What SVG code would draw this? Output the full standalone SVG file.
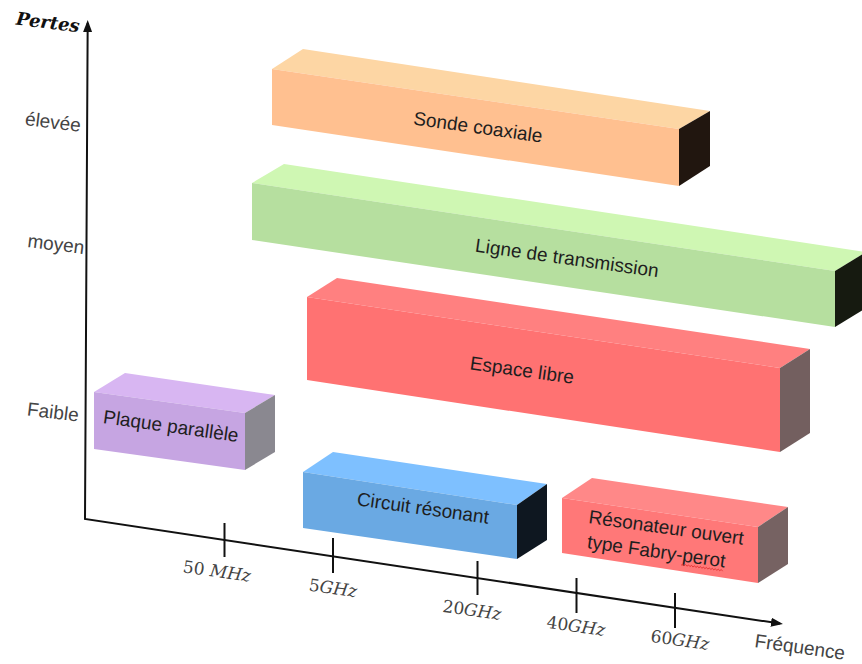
<svg xmlns="http://www.w3.org/2000/svg" width="862" height="664" viewBox="0 0 862 664">
<style>
  .lbl { font-family: "Liberation Sans", Arial, sans-serif; font-size: 19px; fill: #1e1e1e; text-anchor: middle; dominant-baseline: central; }
  .lbl2 { font-family: "Liberation Sans", Arial, sans-serif; font-size: 19px; fill: #1e1e1e; }
  .ylab { font-family: "Liberation Sans", Arial, sans-serif; font-size: 19px; fill: #444; text-anchor: middle; dominant-baseline: central; }
  .tick { font-family: "DejaVu Serif", "Liberation Serif", serif; font-size: 17px; fill: #444; text-anchor: middle; dominant-baseline: central; }
  .it { font-style: italic; }
  .title { font-family: "DejaVu Serif", "Liberation Serif", serif; font-size: 18px; font-weight: bold; font-style: italic; fill: #111; text-anchor: middle; dominant-baseline: central; }
  .axis { fill: none; stroke: #111; stroke-width: 2; }
  .tk { stroke: #111; stroke-width: 2; }
  .org-f { fill: #FFC090; } .org-t { fill: #FDD6A4; } .org-s { fill: #21160F; }
  .grn-f { fill: #B6DF9F; } .grn-t { fill: #CFF7B3; } .grn-s { fill: #161A10; }
  .red-f { fill: #FF7272; } .red-t { fill: #FF8080; } .red-s { fill: #735F5F; }
  .pur-f { fill: #C6A5E2; } .pur-t { fill: #D8B6F2; } .pur-s { fill: #8A8890; }
  .blu-f { fill: #6AA9E3; } .blu-t { fill: #7EC0FF; } .blu-s { fill: #0E1720; }
  .pnk-f { fill: #FF7878; } .pnk-t { fill: #FF8888; } .pnk-s { fill: #766262; }
</style>
<defs>
  <marker id="arr" viewBox="0 0 12 9" refX="9" refY="4.5" markerWidth="12" markerHeight="9" markerUnits="userSpaceOnUse" orient="auto-start-reverse">
    <path d="M0,0 L12,4.5 L0,9 z" fill="#111"/>
  </marker>
</defs>

<g id="connectors">
  <path class="axis" d="M87.68,23 L85,519 L780,623.55" marker-start="url(#arr)" marker-end="url(#arr)"/>
  <line class="tk" x1="224.5" y1="523" x2="224.5" y2="557"/>
  <line class="tk" x1="333" y1="538" x2="333" y2="573"/>
  <line class="tk" x1="477.5" y1="561" x2="477.5" y2="595"/>
  <line class="tk" x1="576.5" y1="578" x2="576.5" y2="613"/>
  <line class="tk" x1="675" y1="593" x2="675" y2="628"/>
</g>

<g id="axis-labels">
  <text class="title" x="48" y="22" transform="rotate(7 48 22)">Pertes</text>
  <text class="ylab" x="53" y="122" transform="rotate(7 53 122)">élevée</text>
  <text class="ylab" x="56" y="244" transform="rotate(7 56 244)">moyen</text>
  <text class="ylab" x="53" y="412" transform="rotate(7 53 412)">Faible</text>
  <text class="tick" x="217" y="571" transform="rotate(8 217 571)">50 <tspan class="it">MHz</tspan></text>
  <text class="tick" x="333" y="588" transform="rotate(8 333 588)">5<tspan class="it">GHz</tspan></text>
  <text class="tick" x="472" y="610" transform="rotate(8 472 610)">20<tspan class="it">GHz</tspan></text>
  <text class="tick" x="576" y="626" transform="rotate(8 576 626)">40<tspan class="it">GHz</tspan></text>
  <text class="tick" x="680" y="640" transform="rotate(8 680 640)">60<tspan class="it">GHz</tspan></text>
  <text class="ylab" x="800" y="647" fill="#333" transform="rotate(8 800 647)">Fréquence</text>
</g>

<g id="sonde-coaxiale">
  <polygon class="org-t" points="272,69 303,49 710,111 679,129"/>
  <polygon class="org-f" points="272,69 679,129 679,186 272,125"/>
  <polygon class="org-s" points="679,129 710,111 710,166 679,186"/>
  <text class="lbl" x="478" y="127" transform="rotate(8 478 127)">Sonde coaxiale</text>
</g>

<g id="ligne-transmission">
  <polygon class="grn-t" points="252,183 284,164 866,252 835,271"/>
  <polygon class="grn-f" points="252,183 835,271 835,327 252,240"/>
  <polygon class="grn-s" points="835,271 866,252 866,308 835,327"/>
  <text class="lbl" x="567" y="258" transform="rotate(8 567 258)">Ligne de transmission</text>
</g>

<g id="espace-libre">
  <polygon class="red-t" points="307,297 337,278 810,349 780,368"/>
  <polygon class="red-f" points="307,297 780,368 780,452 307,380"/>
  <polygon class="red-s" points="780,368 810,349 810,433 780,452"/>
  <text class="lbl" x="522" y="370" transform="rotate(8 522 370)">Espace libre</text>
</g>

<g id="plaque-parallele">
  <polygon class="pur-t" points="94,392 125,373 275,395 245,413"/>
  <polygon class="pur-f" points="94,392 245,413 245,470 94,449"/>
  <polygon class="pur-s" points="245,413 275,395 275,452 245,470"/>
  <text class="lbl" x="171" y="426" transform="rotate(8 171 426)">Plaque parallèle</text>
</g>

<g id="circuit-resonant">
  <polygon class="blu-t" points="303,472 333,452 547,484 517,505"/>
  <polygon class="blu-f" points="303,472 517,505 517,559 303,528"/>
  <polygon class="blu-s" points="517,505 547,484 547,540 517,559"/>
  <text class="lbl" x="423" y="508" transform="rotate(8 423 508)">Circuit résonant</text>
</g>

<g id="resonateur-fabry-perot">
  <polygon class="pnk-t" points="562,498 592,478 788,507 758,527"/>
  <polygon class="pnk-f" points="562,498 758,527 758,583 562,553"/>
  <polygon class="pnk-s" points="758,527 788,507 788,564 758,583"/>
  <g transform="rotate(8 588 523)">
    <text class="lbl2" x="588" y="523">Résonateur ouvert</text>
    <text class="lbl2" x="590" y="548">type Fabry-perot</text>
    <path d="M686,552 l1.5,-1.5 l1.5,1.5 l1.5,-1.5 l1.5,1.5 l1.5,-1.5 l1.5,1.5 l1.5,-1.5 l1.5,1.5 l1.5,-1.5 l1.5,1.5 l1.5,-1.5 l1.5,1.5 l1.5,-1.5 l1.5,1.5 l1.5,-1.5 l1.5,1.5 l1.5,-1.5 l1.5,1.5 l1.5,-1.5 l1.5,1.5 l1.5,-1.5 l1.5,1.5 l1.5,-1.5 l1.5,1.5 l1.5,-1.5 l1.5,1.5 l1.5,-1.5 l1.5,1.5" fill="none" stroke="#e03030" stroke-width="0.8"/>
  </g>
</g>
</svg>
